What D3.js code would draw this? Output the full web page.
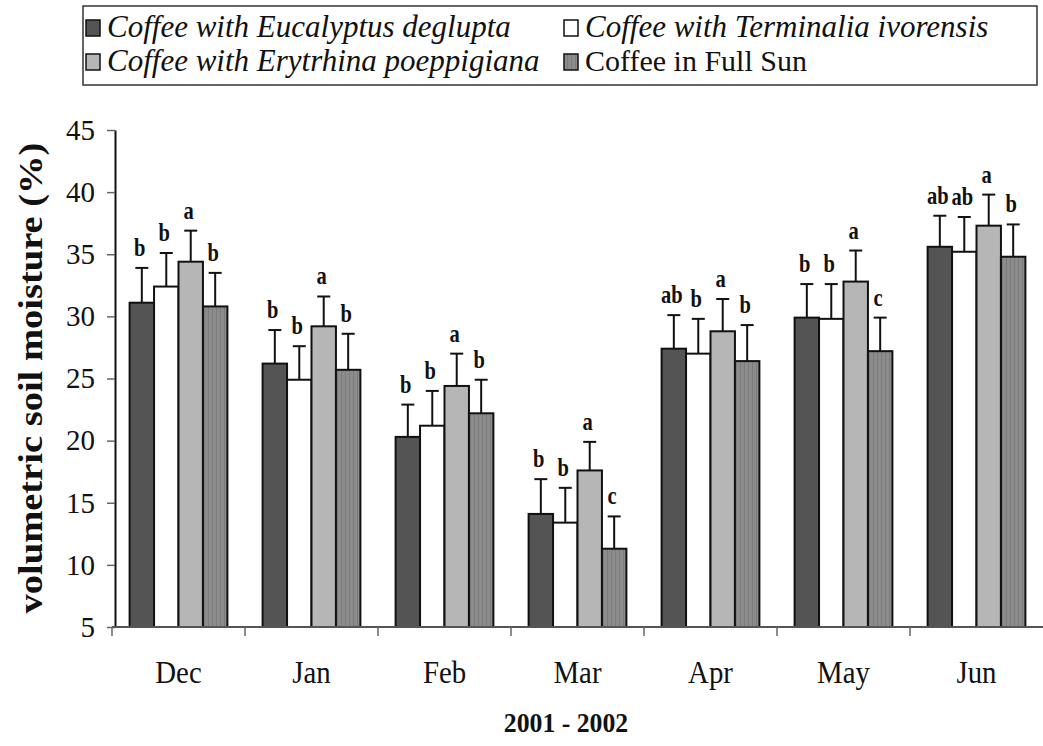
<!DOCTYPE html>
<html>
<head>
<meta charset="utf-8">
<script src="https://cdn.jsdelivr.net/npm/d3@7"></script>
<style>
  body { margin: 0; background: #fff; }
  svg { display: block; font-family: 'Liberation Serif', 'Times New Roman', serif; }
</style>
</head>
<body>
<svg id="chart" width="1043" height="746"></svg>
<script>
const months = ['Dec', 'Jan', 'Feb', 'Mar', 'Apr', 'May', 'Jun'];
const seriesNames = [
  'Coffee with Eucalyptus deglupta',
  'Coffee with Terminalia ivorensis',
  'Coffee with Erytrhina poeppigiana',
  'Coffee in Full Sun'
];
const yTicks = [5, 10, 15, 20, 25, 30, 35, 40, 45];

// means and upper error (SE)
const eucalyptus = [31.1, 26.2, 20.3, 14.1, 27.4, 29.9, 35.6];
const eucalyptusErr = [2.8, 2.7, 2.6, 2.8, 2.7, 2.7, 2.5];
const terminalia = [32.4, 24.9, 21.2, 13.4, 27.0, 29.8, 35.2];
const terminaliaErr = [2.7, 2.7, 2.8, 2.8, 2.8, 2.8, 2.8];
const erythrina = [34.4, 29.2, 24.4, 17.6, 28.8, 32.8, 37.3];
const erythrinaErr = [2.5, 2.4, 2.6, 2.3, 2.6, 2.5, 2.5];
const fullSun = [30.8, 25.7, 22.2, 11.3, 26.4, 27.2, 34.8];
const fullSunErr = [2.7, 2.9, 2.7, 2.6, 2.9, 2.7, 2.6];

const eucalyptusLetters = ['b', 'b', 'b', 'b', 'ab', 'b', 'ab'];
const terminaliaLetters = ['b', 'b', 'b', 'b', 'b', 'b', 'ab'];
const erythrinaLetters = ['a', 'a', 'a', 'a', 'a', 'a', 'a'];
const fullSunLetters = ['b', 'b', 'b', 'c', 'b', 'c', 'b'];

const fills = ['#545454', '#ffffff', '#b6b6b6', 'url(#stripes)'];

const svg = d3.select('#chart');

// stripes for the full-sun pattern
const pat = svg.append('defs').append('pattern')
  .attr('id', 'stripes')
  .attr('patternUnits', 'userSpaceOnUse')
  .attr('width', 4)
  .attr('height', 4);
pat.append('rect').attr('width', 4).attr('height', 4).attr('fill', '#8c8c8c');
pat.append('rect').attr('width', 1).attr('height', 4).attr('fill', '#7c7c7c');

const x0 = d3.scaleBand().domain(months).range([112, 1043]).padding(0);
const x1 = d3.scaleBand().domain(d3.range(4))
  .range([0, x0.bandwidth()])
  .paddingInner(0)
  .paddingOuter(0.72);
const y = d3.scaleLinear().domain([5, 45]).range([627, 130]);

const rows = months.map((m, i) => ({
  month: m,
  bars: [
    { s: 0, v: eucalyptus[i], e: eucalyptusErr[i], l: eucalyptusLetters[i] },
    { s: 1, v: terminalia[i], e: terminaliaErr[i], l: terminaliaLetters[i] },
    { s: 2, v: erythrina[i], e: erythrinaErr[i], l: erythrinaLetters[i] },
    { s: 3, v: fullSun[i], e: fullSunErr[i], l: fullSunLetters[i] }
  ]
}));

const groups = svg.append('g').selectAll('g')
  .data(rows)
  .join('g')
  .attr('transform', d => `translate(${x0(d.month)},0)`);

const bar = groups.selectAll('g')
  .data(d => d.bars)
  .join('g');

// error bars (upper only)
bar.append('line')
  .attr('x1', d => x1(d.s) + x1.bandwidth() / 2)
  .attr('x2', d => x1(d.s) + x1.bandwidth() / 2)
  .attr('y1', d => y(d.v))
  .attr('y2', d => y(d.v + d.e))
  .attr('stroke', '#111')
  .attr('stroke-width', 2);
bar.append('line')
  .attr('x1', d => x1(d.s) + x1.bandwidth() / 2 - 6.5)
  .attr('x2', d => x1(d.s) + x1.bandwidth() / 2 + 6.5)
  .attr('y1', d => y(d.v + d.e))
  .attr('y2', d => y(d.v + d.e))
  .attr('stroke', '#111')
  .attr('stroke-width', 2);

bar.append('rect')
  .attr('x', d => x1(d.s))
  .attr('y', d => y(d.v))
  .attr('width', x1.bandwidth())
  .attr('height', d => y(5) - y(d.v))
  .attr('fill', d => fills[d.s])
  .attr('stroke', '#111')
  .attr('stroke-width', 2);

// significance letters (the scan is a bit narrow, so squeeze them)
bar.append('text')
  .attr('transform', d =>
    `translate(${x1(d.s) + x1.bandwidth() / 2 - 2},${y(d.v + d.e) - 12}) scale(0.82,1)`)
  .attr('text-anchor', 'middle')
  .attr('font-size', 25)
  .attr('font-weight', 'bold')
  .attr('fill', '#111')
  .text(d => d.l);

// y axis
const yAxis = svg.append('g')
  .attr('transform', 'translate(115,0)')
  .call(d3.axisLeft(y).tickValues(yTicks).tickSize(8).tickSizeOuter(0));
yAxis.attr('font-family', null);
yAxis.select('.domain').attr('stroke', '#111').attr('stroke-width', 2);
yAxis.selectAll('.tick line').attr('stroke', '#666').attr('stroke-width', 1.5);
yAxis.selectAll('.tick text')
  .attr('x', -20)
  .attr('font-size', 29)
  .attr('fill', '#111');

// x axis: ticks on group boundaries
const xAxis = svg.append('g').attr('transform', 'translate(0,627)');
xAxis.append('line')
  .attr('x1', 112).attr('x2', 1043)
  .attr('stroke', '#555').attr('stroke-width', 2);
xAxis.selectAll('line.tk')
  .data(months)
  .join('line')
  .attr('class', 'tk')
  .attr('x1', d => x0(d)).attr('x2', d => x0(d))
  .attr('y1', 0).attr('y2', 9)
  .attr('stroke', '#666').attr('stroke-width', 1.5);
xAxis.selectAll('text')
  .data(months)
  .join('text')
  .attr('transform', d => `translate(${x0(d) + x0.bandwidth() / 2},56) scale(0.9,1)`)
  .attr('text-anchor', 'middle')
  .attr('font-size', 32)
  .attr('fill', '#111')
  .text(d => d);

svg.append('text')
  .attr('transform', 'translate(566,732) scale(0.92,1)')
  .attr('text-anchor', 'middle')
  .attr('font-size', 28)
  .attr('font-weight', 'bold')
  .attr('fill', '#111')
  .text('2001 - 2002');

svg.append('text')
  .attr('transform', 'translate(42,378) rotate(-90) scale(1.1,0.95)')
  .attr('text-anchor', 'middle')
  .attr('font-size', 35)
  .attr('font-weight', 'bold')
  .attr('fill', '#111')
  .text('volumetric soil moisture (%)');

// legend
const legend = svg.append('g');
legend.append('rect')
  .attr('x', 83).attr('y', 6)
  .attr('width', 954).attr('height', 79)
  .attr('fill', 'none')
  .attr('stroke', '#333')
  .attr('stroke-width', 1.5);

const legendPos = [[85, 37], [563, 37], [85, 71], [563, 71]];
const legendItem = legend.selectAll('g.item')
  .data(seriesNames)
  .join('g')
  .attr('class', 'item')
  .attr('transform', (d, i) => `translate(${legendPos[i][0]},${legendPos[i][1]})`);
legendItem.append('rect')
  .attr('x', 1).attr('y', -17)
  .attr('width', 14).attr('height', 16)
  .attr('fill', (d, i) => fills[i])
  .attr('stroke', '#111')
  .attr('stroke-width', 1.5);
legendItem.append('text')
  .attr('x', 22)
  .attr('y', 0)
  .attr('font-size', (d, i) => i === 3 ? 30 : 31)
  .attr('font-style', (d, i) => i === 3 ? 'normal' : 'italic')
  .attr('fill', '#111')
  .text(d => d);
</script>
</body>
</html>
